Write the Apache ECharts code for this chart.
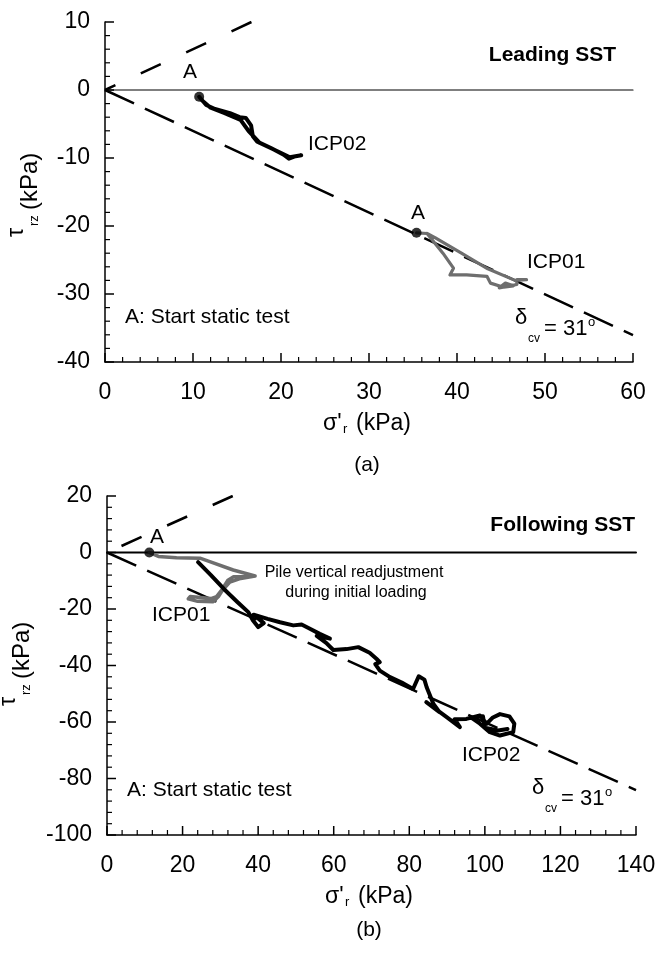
<!DOCTYPE html>
<html><head><meta charset="utf-8">
<script src="https://cdn.jsdelivr.net/npm/echarts@6/dist/echarts.min.js"></script>
<style>html,body{margin:0;padding:0;background:#fff}#c{width:660px;height:956px}</style>
</head><body><div id="c"></div>
<script>
// ---------- data ----------
const deltaCv = 31; // degrees
// (a) Leading SST axes
const aXRange = [0, 60], aXStep = 10;
const aYRange = [-40, 10], aYStep = 10;
// (b) Following SST axes
const bXRange = [0, 140], bXStep = 20;
const bYRange = [-100, 20], bYStep = 20;
const minorDiv = 5;

// (a) ICP02 (black)
const aIcp02X = [10.7, 11.5, 12.5, 14.2, 15.3, 16.0, 16.6, 16.8, 17.3, 18.8, 20.3, 20.9, 21.5, 22.3, 21.0, 19.6, 17.6, 16.3, 15.4, 13.6, 12.0, 11.0];
const aIcp02Y = [-1.0, -2.2, -2.8, -3.4, -4.0, -4.1, -5.2, -6.8, -7.6, -8.5, -9.5, -10.1, -9.8, -9.6, -9.9, -9.0, -7.8, -6.0, -4.4, -3.4, -2.6, -1.5];
// (a) ICP01 (grey)
const aIcp01X = [35.4, 36.6, 38.4, 39.6, 39.2, 41.1, 43.4, 43.8, 45.3, 46.4, 45.5, 44.8, 46.8, 46.8, 47.9, 46.6, 43.5, 40.5, 37.5, 36.6];
const aIcp01Y = [-21.0, -21.1, -24.0, -26.2, -27.2, -27.2, -27.4, -28.4, -29.0, -28.8, -28.4, -29.1, -28.6, -27.9, -27.9, -28.0, -26.3, -24.0, -21.7, -21.1];
// (b) ICP01 (grey)
const bIcp01X = [11.2, 13.6, 18.4, 24.6, 27.2, 33.4, 39.2, 33.5, 32.0, 30.5, 29.0, 27.5, 22.0, 21.5, 24.0, 28.1, 29.5, 30.5, 32.5, 35.0, 39.2];
const bIcp01Y = [0.0, -1.4, -1.9, -2.0, -3.2, -6.2, -8.3, -8.6, -9.8, -13.0, -15.6, -16.3, -15.6, -16.4, -17.3, -17.4, -15.6, -13.5, -10.5, -9.3, -8.3];
// (b) ICP02 (black)
const bIcp02X = [24.1, 27.5, 31.0, 34.5, 37.4, 38.6, 40.0, 41.5, 38.8, 42.5, 45.8, 49.3, 51.5, 53.7, 56.3, 59.0, 55.5, 58.0, 59.9, 63.4, 66.5, 69.5, 71.3, 72.2, 71.0, 72.2, 74.9, 78.0, 81.0, 82.5, 84.0, 84.6, 86.4, 88.0, 84.5, 89.9, 93.4, 92.0, 95.1, 98.7, 100.5, 102.0, 104.0, 106.5, 107.8, 107.5, 104.0, 101.3, 98.7, 96.5, 99.5, 100.0, 103.5, 106.0];
const bIcp02Y = [-3.4, -8.0, -13.0, -17.5, -21.1, -24.0, -26.4, -25.0, -22.0, -23.5, -24.7, -25.8, -25.5, -27.0, -28.8, -30.5, -29.5, -32.0, -34.5, -34.2, -33.5, -35.5, -37.6, -38.8, -39.5, -41.8, -44.1, -46.0, -48.3, -43.8, -45.0, -47.7, -53.6, -56.5, -53.0, -58.3, -61.8, -59.0, -58.9, -57.7, -60.6, -58.5, -57.2, -58.0, -60.6, -63.6, -64.8, -63.6, -60.6, -58.5, -58.0, -62.0, -63.0, -62.5];

// ---------- helpers ----------
const FONT = '"Liberation Sans", Arial, sans-serif';
const pts = (xs, ys) => xs.map((x, i) => [x, ys[i]]);
const slope = Math.tan(deltaCv * Math.PI / 180);
const lowerLine = (xr) => [[0, 0], [xr[1], -slope * xr[1]]];
const upperLine = (yr) => [[yr[1] / slope, yr[1]], [0, 0]];

function ax(gi, r, step, isX) {
  return {
    gridIndex: gi, type: 'value', min: r[0], max: r[1], interval: step,
    axisLine: { show: true, onZero: false, lineStyle: { color: '#000', width: 1.5 } },
    axisTick: { show: false },
    minorTick: { show: false },
    splitLine: { show: false },
    axisLabel: { color: '#000', fontSize: 23, fontFamily: FONT, margin: isX ? 19 : 15 }
  };
}
function tickVals(r, step, major) {
  const out = [], m = step / minorDiv, n = Math.round((r[1] - r[0]) / m);
  for (let i = 0; i <= n; i++) {
    if ((i % minorDiv === 0) === major) out.push(+(r[0] + i * m).toFixed(6));
  }
  return out;
}
function line(gi, data, color, width, dash, z) {
  return {
    type: 'line', xAxisIndex: gi, yAxisIndex: gi, data: data, symbol: 'none', showSymbol: false,
    silent: true, z: z || 2,
    lineStyle: { color: color, width: width, type: dash || 'solid', join: 'round', cap: dash ? 'butt' : 'round' }
  };
}
function txt(x, y, text, size, opts) {
  opts = opts || {};
  const el = {
    type: 'text', x: x, y: y, silent: true, z: 100,
    style: { text: text, font: (opts.bold ? 'bold ' : '') + size + 'px ' + FONT, fill: '#000',
      align: opts.align || 'left', verticalAlign: 'middle' }
  };
  if (opts.rot) el.rotation = opts.rot;
  return el;
}
function xTitle(x0, cy) {
  return [
    txt(x0, cy, "σ'", 23),
    txt(x0 + 20, cy + 5, 'r', 13),
    txt(x0 + 33, cy, '(kPa)', 23)
  ];
}
function yTitle(cx, yStart) {
  const R = Math.PI / 2;
  return [
    txt(cx - 13, yStart, 'τ', 23, { rot: R }),
    txt(cx + 4, yStart - 11, 'rz', 13, { rot: R }),
    txt(cx, yStart - 27, '(kPa)', 24, { rot: R })
  ];
}
function delta(x, y) {
  return [
    txt(x, y, 'δ', 22),
    txt(x + 13, y + 21, 'cv', 12),
    txt(x + 29, y + 11, '= 31', 22),
    txt(x + 73, y + 4, 'o', 13)
  ];
}

const baseGraphic = [
  // (a)
  txt(616, 55, 'Leading SST', 21, { bold: true, align: 'right' }),
  txt(190, 72, 'A', 21, { align: 'center' }),
  txt(308, 144, 'ICP02', 21),
  txt(418, 213, 'A', 21, { align: 'center' }),
  txt(527, 262, 'ICP01', 21),
  ...delta(515, 318),
  txt(125, 317, 'A: Start static test', 21),
  ...xTitle(323, 424),
  txt(367, 465, '(a)', 21, { align: 'center' }),
  ...yTitle(30, 237),
  // (b)
  txt(635, 525, 'Following SST', 21, { bold: true, align: 'right' }),
  txt(157, 537, 'A', 21, { align: 'center' }),
  txt(354, 573, 'Pile vertical readjustment', 16, { align: 'center' }),
  txt(356, 593, 'during initial loading', 16, { align: 'center' }),
  txt(152, 615, 'ICP01', 21),
  txt(462, 755, 'ICP02', 21),
  ...delta(532, 788),
  txt(127, 790, 'A: Start static test', 21),
  ...xTitle(325, 897),
  txt(369, 930, '(b)', 21, { align: 'center' }),
  ...yTitle(22, 706)
];

const option = {
  animation: false,
  grid: [
    { left: 105, top: 22, width: 528, height: 340 },
    { left: 107, top: 496, width: 529, height: 339 }
  ],
  xAxis: [ax(0, aXRange, aXStep, true), ax(1, bXRange, bXStep, true)],
  yAxis: [ax(0, aYRange, aYStep, false), ax(1, bYRange, bYStep, false)],
  series: [
    line(0, [[aXRange[0], 0], [aXRange[1], 0]], '#000', 1.2, null, 1),
    line(0, lowerLine(aXRange), '#000', 2.5, [32, 12], 1),
    line(0, upperLine(aYRange), '#000', 2.5, [22, 28], 1),
    line(0, pts(aIcp02X, aIcp02Y), '#000', 4, null, 3),
    line(0, pts(aIcp01X, aIcp01Y), '#6e6e6e', 3.2, null, 3),
    { type: 'scatter', xAxisIndex: 0, yAxisIndex: 0, silent: true, z: 4, symbolSize: 10,
      itemStyle: { color: '#000' }, data: [[aIcp02X[0], aIcp02Y[0]], [aIcp01X[0], aIcp01Y[0]]] },
    line(1, [[bXRange[0], 0], [bXRange[1], 0]], '#000', 2, null, 1),
    line(1, lowerLine(bXRange), '#000', 2.5, [32, 12], 1),
    line(1, upperLine(bYRange), '#000', 2.5, [22, 28], 1),
    line(1, pts(bIcp01X, bIcp01Y), '#6e6e6e', 3.5, null, 3),
    line(1, pts(bIcp02X, bIcp02Y), '#000', 4, null, 3),
    { type: 'scatter', xAxisIndex: 1, yAxisIndex: 1, silent: true, z: 4, symbolSize: 10,
      itemStyle: { color: '#000' }, data: [[bIcp01X[0], bIcp01Y[0]]] }
  ],
  graphic: baseGraphic
};
const chart = echarts.init(document.getElementById('c'));
chart.setOption(option);

// inward ticks, positioned through the axes' own scales
function tickLines(gi, xr, xs, yr, ys) {
  const els = [];
  const add = (p, dx, dy, w) => els.push({
    type: 'line', silent: true, z: 50,
    shape: { x1: p[0], y1: p[1], x2: p[0] + dx, y2: p[1] + dy },
    style: { stroke: '#000', lineWidth: w }
  });
  const toPx = (v) => chart.convertToPixel({ gridIndex: gi }, v);
  tickVals(xr, xs, true).forEach(v => add(toPx([v, yr[0]]), 0, -9, 1.5));
  tickVals(xr, xs, false).forEach(v => add(toPx([v, yr[0]]), 0, -5, 1.2));
  tickVals(yr, ys, true).forEach(v => add(toPx([xr[0], v]), 9, 0, 1.5));
  tickVals(yr, ys, false).forEach(v => add(toPx([xr[0], v]), 5, 0, 1.2));
  return els;
}
chart.setOption({
  graphic: baseGraphic.concat(
    tickLines(0, aXRange, aXStep, aYRange, aYStep),
    tickLines(1, bXRange, bXStep, bYRange, bYStep)
  )
});
</script>
</body></html>
